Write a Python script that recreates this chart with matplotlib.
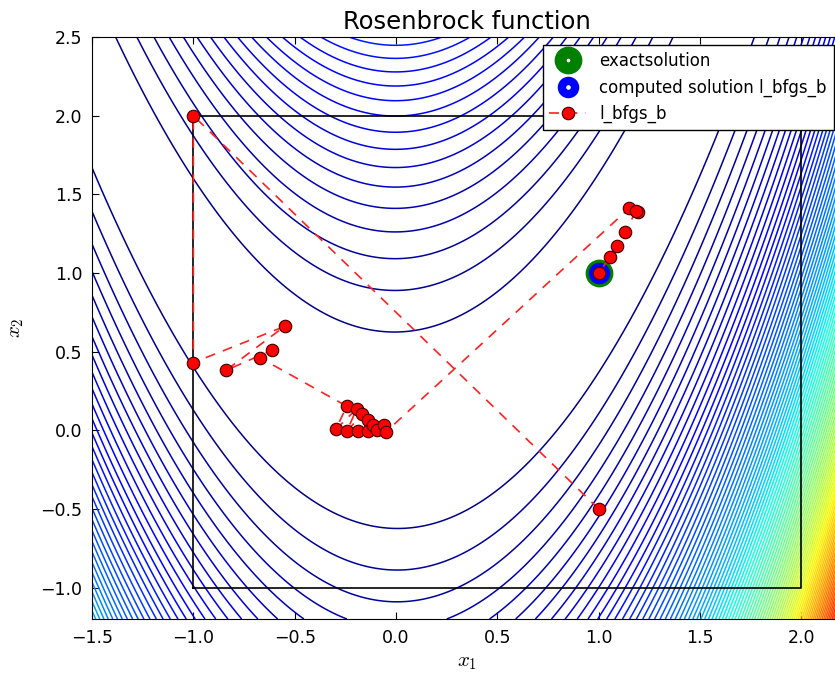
import matplotlib
matplotlib.use('Agg')
import matplotlib.pyplot as plt
import numpy as np

plt.rcParams['mathtext.fontset'] = 'cm'

#Rosenbrock function surface on the plotted window
xgrid = np.linspace(-1.5, 2.2, 400)
ygrid = np.linspace(-1.2, 2.5, 400)
X, Y = np.meshgrid(xgrid, ygrid)
Z = (1 - X)**2 + 100*(Y - X**2)**2
levels = np.arange(0, 4040, 40)

#Bounds box for l_bfgs_b
box_x = [-1, 2, 2, -1, -1]
box_y = [-1, -1, 2, 2, -1]

#Iterates of l_bfgs_b
path_x = [1.00, -1.00, -1.00, -0.55, -0.84, -0.61, -0.67,
          -0.243, -0.297, -0.194, -0.243, -0.166, -0.186, -0.136, -0.136,
          -0.112, -0.095, -0.057, -0.051,
          1.152, 1.193, 1.184, 1.131, 1.090, 1.057, 1.00]
path_y = [-0.50, 2.00, 0.43, 0.66, 0.38, 0.51, 0.46,
          0.153, 0.005, 0.137, -0.008, 0.105, -0.008, 0.067, -0.003,
          0.035, 0.003, 0.035, -0.012,
          1.413, 1.390, 1.394, 1.259, 1.174, 1.102, 1.00]

exact = (1.0, 1.0)
computed = (1.0, 1.0)

fig = plt.figure(figsize=(8.35, 6.77), dpi=100)
ax = fig.add_axes([0.1102, 0.0857, 0.898, 0.8596])

ax.contour(X, Y, Z, levels=levels, cmap='jet', linewidths=1.1)
ax.plot(box_x, box_y, color='black', linewidth=1.2)

ax.plot(exact[0], exact[1], 'o', color='green', markersize=11.5, mfc='white',
        mec='green', mew=8.5, linestyle='none', label='exactsolution')
ax.plot(computed[0], computed[1], 'o', color='blue', markersize=9.5, mfc='white',
        mec='blue', mew=6.0, linestyle='none', label='computed solution l_bfgs_b')
ax.plot(path_x, path_y, '--', color='#ff2020', marker='o', markersize=9,
        mfc='red', mec='#400000', mew=0.8, linewidth=1.2, dashes=(6, 5), label='l_bfgs_b')

ax.set_xlim(-1.5, 2.2)
ax.set_ylim(-1.2, 2.5)
ax.set_xticks(np.arange(-1.5, 2.01, 0.5))
ax.set_yticks(np.arange(-1.0, 2.51, 0.5))
ax.tick_params(direction='in', top=True, right=True, labelsize=12.5, length=5, pad=7)

ax.set_title('Rosenbrock function', fontsize=17.5)
ax.set_xlabel('$x_1$', fontsize=15)
ax.set_ylabel('$x_2$', fontsize=15, labelpad=10)

leg = ax.legend(loc='upper right', fontsize=12, numpoints=1, fancybox=False,
                framealpha=1, edgecolor='black', borderaxespad=0.5, handlelength=2.2)
leg.get_frame().set_linewidth(1.0)

fig.savefig('out.png', dpi=100)
